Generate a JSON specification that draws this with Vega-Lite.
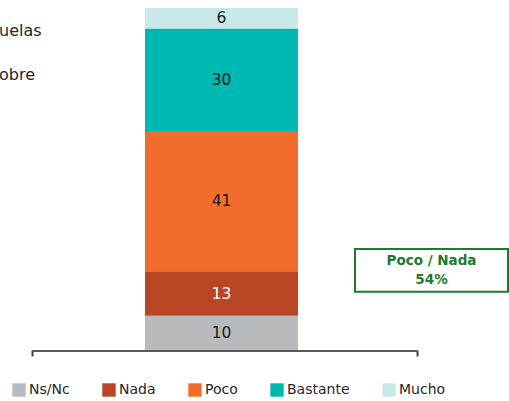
{
  "$schema": "https://vega.github.io/schema/vega-lite/v6.json",
  "autosize": {"type": "none"},
  "width": 476,
  "height": 342,
  "padding": {"left": 32, "top": 8, "right": 1, "bottom": 51},
  "background": "white",
  "config": {"view": {"stroke": null}, "font": "DejaVu Sans"},
  "title": {
    "text": ["uelas", "obre"],
    "anchor": "start",
    "frame": "group",
    "orient": "top",
    "fontSize": 16,
    "fontWeight": "normal",
    "color": "#262626",
    "lineHeight": 44,
    "baseline": "alphabetic",
    "dx": -33,
    "dy": 91.5
  },
  "datasets": {
    "respuestas": [
      {"grupo": "Total", "respuesta": "Ns/Nc", "valor": 10},
      {"grupo": "Total", "respuesta": "Nada", "valor": 13},
      {"grupo": "Total", "respuesta": "Poco", "valor": 41},
      {"grupo": "Total", "respuesta": "Bastante", "valor": 30},
      {"grupo": "Total", "respuesta": "Mucho", "valor": 6}
    ],
    "anotacion": [
      {"grupo": "Poco / Nada", "etiqueta": "Poco / Nada", "porcentaje": "54%"}
    ]
  },
  "resolve": {"scale": {"x": "independent"}},
  "layer": [
    {
      "layer": [
        {
          "data": {"name": "respuestas"},
          "transform": [{"window": [{"op": "row_number", "as": "orden"}]}],
          "mark": {"type": "bar"},
          "encoding": {
            "x": {
              "field": "grupo",
              "type": "nominal",
              "scale": {"type": "band", "domain": ["Total", "Poco / Nada"], "paddingInner": 0.2714, "paddingOuter": 0.269, "align": 1},
              "axis": null
            },
            "y": {"field": "valor", "type": "quantitative", "stack": "zero", "scale": {"domain": [0, 100], "nice": false}, "axis": null},
            "color": {
              "field": "respuesta",
              "type": "nominal",
              "scale": {
                "domain": ["Ns/Nc", "Nada", "Poco", "Bastante", "Mucho"],
                "range": ["#b7bbbd", "#b84624", "#f26d2c", "#00b8b2", "#c9e8ea"]
              },
              "legend": {
                "title": null,
                "orient": "none",
                "legendX": -20,
                "legendY": 375,
                "direction": "horizontal",
                "columns": 5,
                "columnPadding": 32,
                "padding": 0,
                "symbolType": "square",
                "symbolSize": 180,
                "symbolStrokeWidth": 0,
                "labelFontSize": 14,
                "labelOffset": 3,
                "labelColor": "#262626"
              }
            },
            "order": {"field": "orden", "sort": "ascending"}
          }
        },
        {
          "data": {"name": "respuestas"},
          "transform": [{"window": [{"op": "row_number", "as": "orden"}]}],
          "mark": {"type": "text", "fontSize": 15.5, "baseline": "middle"},
          "encoding": {
            "x": {"field": "grupo", "type": "nominal"},
            "y": {"field": "valor", "type": "quantitative", "stack": "zero", "bandPosition": 0.5},
            "detail": {"field": "respuesta"},
            "text": {"field": "valor", "type": "quantitative"},
            "order": {"field": "orden", "sort": "ascending"},
            "color": {"condition": {"test": "datum.respuesta === 'Nada'", "value": "#ffffff"}, "value": "#1a1a1a"}
          }
        },
        {
          "data": {"name": "anotacion"},
          "mark": {"type": "bar", "fill": "#ffffff", "stroke": "#1b7a30", "strokeWidth": 2},
          "encoding": {
            "x": {"field": "grupo", "type": "nominal"},
            "y": {"datum": 17},
            "y2": {"datum": 29.5}
          }
        },
        {
          "data": {"name": "anotacion"},
          "mark": {"type": "text", "fontSize": 13.5, "fontWeight": "bold", "color": "#1b7a30", "baseline": "middle"},
          "encoding": {
            "x": {"field": "grupo", "type": "nominal"},
            "y": {"datum": 26},
            "text": {"field": "etiqueta"}
          }
        },
        {
          "data": {"name": "anotacion"},
          "mark": {"type": "text", "fontSize": 13.5, "fontWeight": "bold", "color": "#1b7a30", "baseline": "middle"},
          "encoding": {
            "x": {"field": "grupo", "type": "nominal"},
            "y": {"datum": 20.6},
            "text": {"field": "porcentaje"}
          }
        }
      ]
    },
    {
      "data": {"values": [{}]},
      "mark": {"type": "rule", "color": "#595959", "strokeWidth": 2, "yOffset": 1},
      "encoding": {
        "x": {
          "datum": 0,
          "type": "quantitative",
          "scale": {"domain": [0, 1.2364], "nice": false, "zero": false},
          "axis": {"orient": "bottom", "values": [0, 1], "domain": false, "labels": false, "grid": false, "ticks": true, "tickSize": 6, "tickColor": "#404040", "tickWidth": 2, "title": null, "offset": 0}
        },
        "x2": {"datum": 1},
        "y": {"datum": 0}
      }
    }
  ]
}
